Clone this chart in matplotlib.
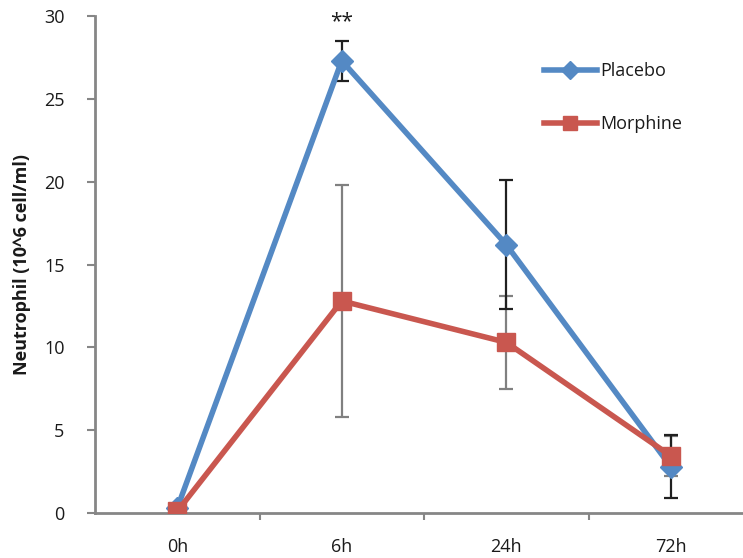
import matplotlib
matplotlib.use("Agg")
import matplotlib.pyplot as plt
import numpy as np

categories = ["0h", "6h", "24h", "72h"]
placebo = [0.3, 27.3, 16.2, 2.8]
placebo_err = [0.0, 1.2, 3.9, 1.9]
morphine = [0.1, 12.8, 10.3, 3.45]
morphine_err = [0.0, 7.0, 2.8, 1.2]
yticks = [0, 5, 10, 15, 20, 25, 30]

plt.rcParams['font.family'] = ['Open Sans', 'DejaVu Sans']

fig = plt.figure(figsize=(7.43, 5.58), dpi=100)
ax = fig.add_axes([95/743, 1-513/558, 658/743, (513-16)/558])

x = np.arange(len(categories))
blue = "#5489C4"
red = "#C9574F"
tc = '#1a1a1a'
fs = 13

ax.errorbar(x, morphine, yerr=morphine_err, fmt='none', ecolor="#808080",
            elinewidth=1.6, capsize=5, capthick=1.6, zorder=2)
ax.errorbar(x, placebo, yerr=placebo_err, fmt='none', ecolor="#202020",
            elinewidth=1.6, capsize=5, capthick=1.6, zorder=2)
ax.plot(x, placebo, color=blue, lw=4, marker='D', ms=11, mec=blue, mfc=blue,
        label="Placebo", zorder=3)
ax.plot(x, morphine, color=red, lw=4, marker='s', ms=12.5, mec=red, mfc=red,
        label="Morphine", zorder=4)

ax.text(1, 29.0, "**", ha='center', va='bottom', fontsize=15, color=tc)

ax.set_xlim(-0.5, 3.5)
ax.set_ylim(0, 30)
ax.set_yticks(yticks)
ax.set_yticklabels([str(v) for v in yticks], fontsize=fs, color=tc)
ax.set_xticks([0.5, 1.5, 2.5, 3.5])
ax.set_xticklabels([])
ax.set_xticks(x, minor=True)
ax.set_xticklabels(categories, minor=True, fontsize=fs, color=tc)
ax.tick_params(axis='x', which='minor', length=0, pad=18)
ax.tick_params(axis='x', which='major', length=5, width=1.5, color='#868686', direction='out')
ax.tick_params(axis='y', length=6, width=1.5, color='#868686', direction='out', pad=16)

for s in ['top', 'right']:
    ax.spines[s].set_visible(False)
for s in ['left', 'bottom']:
    ax.spines[s].set_color('#868686')
    ax.spines[s].set_linewidth(2)

ax.set_ylabel("Neutrophil (10^6 cell/ml)", fontsize=fs, fontweight='bold', labelpad=9, color=tc)

leg = ax.legend(loc='upper left', bbox_to_anchor=(528/743, 1-46/558),
                bbox_transform=fig.transFigure, frameon=False, fontsize=fs,
                handlelength=2.9, labelspacing=1.95, handletextpad=0.2, markerscale=0.8)
for t in leg.get_texts():
    t.set_color(tc)

fig.savefig("out.png", dpi=100)
